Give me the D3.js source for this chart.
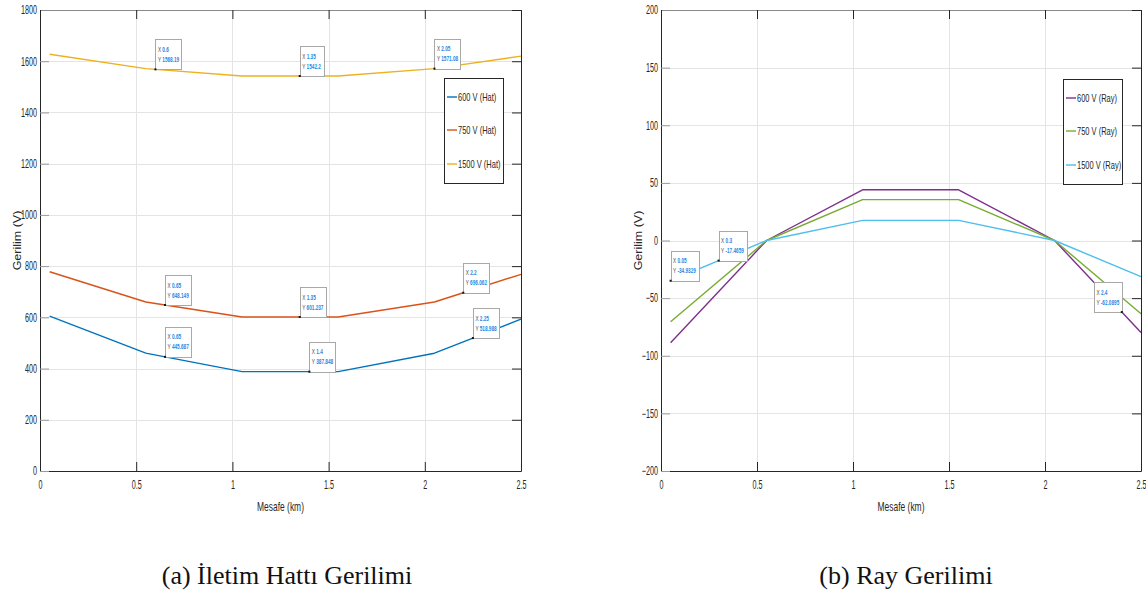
<!DOCTYPE html>
<html>
<head>
<meta charset="utf-8">
<script src="https://cdn.jsdelivr.net/npm/d3@7"></script>
<style>
  body { margin: 0; background: #fff; }
  svg { display: block; }
</style>
</head>
<body>
<svg id="fig" width="1146" height="592"></svg>
<script>
// ---- Overhead line (Hat) voltage along the line, distance in km ----
const hatX600  = [0.05, 0.55, 0.65, 1.05, 1.4, 1.55, 2.05, 2.25, 2.5];
const hatV600  = [605, 460.1, 445.687, 387.848, 387.848, 387.848, 460, 518.988, 592.7];
const hatX750  = [0.05, 0.55, 0.65, 1.05, 1.35, 1.55, 2.05, 2.2, 2.5];
const hatV750  = [778, 660, 648.149, 601.237, 601.237, 601.237, 660, 696.062, 768];
const hatX1500 = [0.05, 0.55, 0.6, 1.05, 1.35, 1.55, 2.05, 2.5];
const hatV1500 = [1627, 1571, 1568.19, 1542.2, 1542.2, 1542.2, 1571.08, 1620];

// ---- Rail (Ray) voltage along the line ----
const rayX600  = [0.05, 0.55, 1.05, 1.55, 2.05, 2.4, 2.5];
const rayV600  = [-88.7, 0, 44, 44, 0, -62.0895, -79.8];
const rayX750  = [0.05, 0.55, 1.05, 1.55, 2.05, 2.5];
const rayV750  = [-70.5, 0, 35.5, 35.5, 0, -63.5];
const rayX1500 = [0.05, 0.3, 0.55, 1.05, 1.55, 2.05, 2.5];
const rayV1500 = [-34.9329, -17.4659, 0, 17.5, 17.5, 0, -31.4];

// ---- Axis ticks ----
const distTicks = [0, 0.5, 1, 1.5, 2, 2.5];
const hatTicks  = [0, 200, 400, 600, 800, 1000, 1200, 1400, 1600, 1800];
const rayTicks  = [-200, -150, -100, -50, 0, 50, 100, 150, 200];

// ---- Legend entries ----
const hatNames  = ["600 V (Hat)", "750 V (Hat)", "1500 V (Hat)"];
const rayNames  = ["600 V (Ray)", "750 V (Ray)", "1500 V (Ray)"];
const hatColors = ["#0072BD", "#D95319", "#EDB120"];
const rayColors = ["#7E2F8E", "#77AC30", "#4DBEEE"];

// ---- Data tips: which series, at which distance ----
const hatTipSeries = [2, 2, 2, 1, 1, 1, 0, 0, 0];
const hatTipX      = [0.6, 1.35, 2.05, 0.65, 1.35, 2.2, 0.65, 1.4, 2.25];
const rayTipSeries = [2, 2, 0];
const rayTipX      = [0.05, 0.3, 2.4];
const rayTipLeft   = [false, false, true];

const svg = d3.select("#fig");
const SX = 0.6;          // horizontal squeeze of the narrow axis lettering
const FONT = "'Liberation Sans', Arial, sans-serif";

function squeezeText(sel, sx) {
  sel.each(function () {
    const t = d3.select(this);
    const x = +t.attr("x") || 0;
    t.attr("x", x / sx).attr("transform", `scale(${sx},1)`);
  });
}

function drawPanel(cfg) {
  const g = svg.append("g");
  const x = d3.scaleLinear().domain([0, 2.5]).range([cfg.x0, cfg.x1]);
  const y = d3.scaleLinear().domain(cfg.yDomain).range([cfg.yBot, cfg.yTop]);

  // grid
  const grid = g.append("g").attr("stroke", "#e4e4e4").attr("stroke-width", 1);
  grid.selectAll("line.v").data(distTicks.slice(1, -1)).join("line")
    .attr("x1", d => Math.round(x(d)) + 0.5).attr("x2", d => Math.round(x(d)) + 0.5)
    .attr("y1", cfg.yTop).attr("y2", cfg.yBot);
  grid.selectAll("line.h").data(cfg.ticks.slice(1, -1)).join("line")
    .attr("y1", d => Math.round(y(d)) + 0.5).attr("y2", d => Math.round(y(d)) + 0.5)
    .attr("x1", cfg.x0).attr("x2", cfg.x1);

  // series
  const line = d3.line().x(d => x(d[0])).y(d => y(d[1]));
  cfg.series.forEach((s, i) => {
    g.append("path").datum(d3.zip(s[0], s[1]))
      .attr("d", line).attr("fill", "none")
      .attr("stroke", cfg.colors[i]).attr("stroke-width", 1.4)
      .attr("stroke-linejoin", "round");
  });

  // axes with inward ticks
  const tickStyle = a => a.call(s => s.selectAll(".tick line").attr("stroke", "#262626"))
                          .call(s => s.select(".domain").attr("stroke", "#262626"));
  const bottom = g.append("g").attr("transform", `translate(0,${cfg.yBot})`)
    .call(d3.axisBottom(x).tickValues(distTicks).tickFormat(d3.format("~g"))
      .tickSizeInner(-9).tickSizeOuter(0).tickPadding(9));
  const left = g.append("g").attr("transform", `translate(${cfg.x0},0)`)
    .call(d3.axisLeft(y).tickValues(cfg.ticks).tickFormat(d3.format("~g"))
      .tickSizeInner(-9).tickSizeOuter(0).tickPadding(3));
  const top = g.append("g").attr("transform", `translate(0,${cfg.yTop})`)
    .call(d3.axisTop(x).tickValues(distTicks).tickFormat("")
      .tickSizeInner(-9).tickSizeOuter(0));
  const right = g.append("g").attr("transform", `translate(${cfg.x1},0)`)
    .call(d3.axisRight(y).tickValues(cfg.ticks).tickFormat("")
      .tickSizeInner(-9).tickSizeOuter(0));
  [bottom, left, top, right].forEach(tickStyle);
  top.select(".domain").attr("stroke", "#8a8a8a");
  left.selectAll(".tick line").attr("stroke", "#9a9a9a");
  [bottom, left].forEach(a => {
    a.selectAll("text").attr("font-family", FONT).attr("font-size", 12).attr("fill", "#262626");
    squeezeText(a.selectAll("text"), SX);
  });

  // axis titles
  g.append("text")
    .attr("transform", `translate(${(cfg.x0 + cfg.x1) / 2},${cfg.yBot + 40}) scale(0.65,1)`)
    .attr("text-anchor", "middle").attr("font-family", FONT).attr("font-size", 13)
    .attr("fill", "#262626").text("Mesafe (km)");
  g.append("text")
    .attr("transform", `translate(${cfg.x0 - 19},${(cfg.yTop + cfg.yBot) / 2}) scale(0.88,1) rotate(-90)`)
    .attr("text-anchor", "middle").attr("font-family", FONT).attr("font-size", 12.5)
    .attr("fill", "#262626").text("Gerilim (V)");

  // data tips
  cfg.tipX.forEach((tx, k) => {
    const s = cfg.series[cfg.tipSeries[k]];
    const idx = s[0].indexOf(tx);
    const tv = s[1][idx];
    const px = x(tx), py = y(tv);
    const tip = g.append("g");
    const box = tip.append("rect").attr("fill", "#fff").attr("stroke", "#a8a8a8").attr("stroke-width", 1);
    const txt = tip.append("g").attr("font-family", FONT).attr("font-size", 6.5);
    const l1 = txt.append("text");
    l1.append("tspan").attr("fill", "#444").text("X ");
    l1.append("tspan").attr("fill", "#1E88E5").attr("font-weight", "bold").text(String(tx));
    const l2 = txt.append("text");
    l2.append("tspan").attr("fill", "#444").text("Y ");
    l2.append("tspan").attr("fill", "#1E88E5").attr("font-weight", "bold").text(String(+tv.toPrecision(6)));
    const sx = 0.72;
    const w = Math.max(l1.node().getComputedTextLength(), l2.node().getComputedTextLength()) * sx + 5;
    const h = 30;
    const bx = cfg.tipLeft && cfg.tipLeft[k] ? px - w : px;
    const by = py - h;
    box.attr("x", Math.round(bx) + 0.5).attr("y", Math.round(by) + 0.5).attr("width", Math.round(w)).attr("height", h);
    l1.attr("transform", `translate(${bx + 2.5},${by + 12.5}) scale(${sx},1)`);
    l2.attr("transform", `translate(${bx + 2.5},${by + 22.5}) scale(${sx},1)`);
    tip.append("rect").attr("x", px - 1).attr("y", py - 1).attr("width", 2).attr("height", 2).attr("fill", "#111");
  });

  // legend
  const lg = g.append("g").attr("transform", `translate(${cfg.legX},${cfg.legY})`);
  lg.append("rect").attr("x", 0.5).attr("y", 0.5).attr("width", 59).attr("height", 105)
    .attr("fill", "#fff").attr("stroke", "#262626").attr("stroke-width", 1);
  const rows = [19, 52, 86];
  cfg.names.forEach((n, i) => {
    lg.append("line").attr("x1", 3).attr("x2", 13).attr("y1", rows[i]).attr("y2", rows[i])
      .attr("stroke", cfg.colors[i]).attr("stroke-width", 1.4);
    lg.append("text").attr("transform", `translate(14,${rows[i] + 3.5}) scale(0.75,1)`)
      .attr("font-family", FONT).attr("font-size", 10).attr("fill", "#262626").text(n);
  });
}

drawPanel({
  x0: 40, x1: 521, yTop: 10, yBot: 471, yDomain: [0, 1800], ticks: hatTicks,
  series: [[hatX600, hatV600], [hatX750, hatV750], [hatX1500, hatV1500]],
  colors: hatColors, names: hatNames, legX: 444, legY: 78,
  tipSeries: hatTipSeries, tipX: hatTipX
});
drawPanel({
  x0: 661, x1: 1141, yTop: 10, yBot: 471, yDomain: [-200, 200], ticks: rayTicks,
  series: [[rayX600, rayV600], [rayX750, rayV750], [rayX1500, rayV1500]],
  colors: rayColors, names: rayNames, legX: 1063, legY: 79,
  tipSeries: rayTipSeries, tipX: rayTipX, tipLeft: rayTipLeft
});

// captions
const SERIF = "'Liberation Serif', 'Times New Roman', serif";
svg.append("text").attr("x", 287).attr("y", 584).attr("text-anchor", "middle")
  .attr("font-family", SERIF).attr("font-size", 26).attr("fill", "#111").text("(a) İletim Hattı Gerilimi");
svg.append("text").attr("x", 906).attr("y", 584).attr("text-anchor", "middle")
  .attr("font-family", SERIF).attr("font-size", 26).attr("fill", "#111").text("(b) Ray Gerilimi");
</script>
</body>
</html>
